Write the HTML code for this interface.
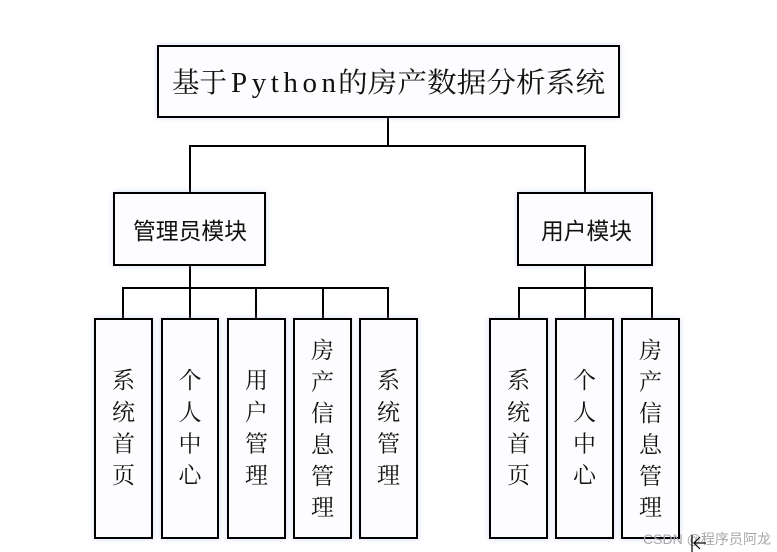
<!DOCTYPE html>
<html>
<head>
<meta charset="utf-8">
<style>
html,body{margin:0;padding:0;background:#fff;}
svg{display:block;}
.serif{font-family:"Liberation Serif","Noto Serif CJK SC",serif;}
.sans{font-family:"Liberation Sans","Noto Sans CJK SC",sans-serif;}
</style>
</head>
<body>
<svg width="777" height="552" viewBox="0 0 777 552" xmlns="http://www.w3.org/2000/svg">
<defs>
<filter id="glow" x="-20%" y="-20%" width="140%" height="140%">
<feDropShadow dx="0" dy="0" stdDeviation="3" flood-color="#9fb4e8" flood-opacity="0.45"/>
</filter>
</defs>
<rect width="777" height="552" fill="#fff"/>

<!-- connectors -->
<g stroke="#000" stroke-width="2" fill="none">
<line x1="388" y1="118" x2="388" y2="146"/>
<line x1="189" y1="146" x2="586" y2="146"/>
<line x1="190" y1="146" x2="190" y2="192"/>
<line x1="585" y1="146" x2="585" y2="192"/>

<line x1="190" y1="266" x2="190" y2="288"/>
<line x1="122" y1="288" x2="389" y2="288"/>
<line x1="123" y1="288" x2="123" y2="318"/>
<line x1="190" y1="288" x2="190" y2="318"/>
<line x1="256" y1="288" x2="256" y2="318"/>
<line x1="323" y1="288" x2="323" y2="318"/>
<line x1="388" y1="288" x2="388" y2="318"/>

<line x1="585" y1="266" x2="585" y2="288"/>
<line x1="518" y1="288" x2="653" y2="288"/>
<line x1="519" y1="288" x2="519" y2="318"/>
<line x1="585" y1="288" x2="585" y2="318"/>
<line x1="652" y1="288" x2="652" y2="318"/>
</g>

<!-- boxes -->
<g stroke="#000" stroke-width="2" fill="#fdfdff" filter="url(#glow)">
<rect x="158" y="46" width="461" height="71"/>
<rect x="114" y="193" width="151" height="72"/>
<rect x="518" y="193" width="134" height="72"/>

<rect x="95" y="319" width="57" height="219"/>
<rect x="162" y="319" width="56" height="219"/>
<rect x="228" y="319" width="57" height="219"/>
<rect x="294" y="319" width="57" height="219"/>
<rect x="360" y="319" width="57" height="219"/>

<rect x="490" y="319" width="57" height="219"/>
<rect x="556" y="319" width="57" height="219"/>
<rect x="622" y="319" width="57" height="219"/>
</g>

<!-- title -->
<g fill="#111" font-size="28">
<text x="172" y="92" class="serif" textLength="55" lengthAdjust="spacingAndGlyphs">基于</text>
<text x="231" y="92" font-family="'Liberation Serif',serif" font-size="29" textLength="105" lengthAdjust="spacing">Python</text>
<text x="338" y="92" class="serif" textLength="267" lengthAdjust="spacingAndGlyphs">的房产数据分析系统</text>
</g>

<!-- module labels -->
<g fill="#111" font-size="23" class="sans">
<text x="133" y="239" textLength="114" lengthAdjust="spacingAndGlyphs">管理员模块</text>
<text x="541" y="239" textLength="91" lengthAdjust="spacingAndGlyphs">用户模块</text>
</g>

<!-- vertical labels -->
<g fill="#111" font-size="23" class="serif" text-anchor="middle">
<text x="123.5" y="388">系</text><text x="123.5" y="420">统</text><text x="123.5" y="451.5">首</text><text x="123.5" y="483">页</text>
<text x="190" y="388">个</text><text x="190" y="420">人</text><text x="190" y="451.5">中</text><text x="190" y="483">心</text>
<text x="256.5" y="388">用</text><text x="256.5" y="420">户</text><text x="256.5" y="451.5">管</text><text x="256.5" y="483">理</text>
<text x="388.5" y="388">系</text><text x="388.5" y="420">统</text><text x="388.5" y="451.5">管</text><text x="388.5" y="483">理</text>
<text x="518.5" y="388">系</text><text x="518.5" y="420">统</text><text x="518.5" y="451.5">首</text><text x="518.5" y="483">页</text>
<text x="584.5" y="388">个</text><text x="584.5" y="420">人</text><text x="584.5" y="451.5">中</text><text x="584.5" y="483">心</text>
<text x="322.5" y="358">房</text><text x="322.5" y="389.5">产</text><text x="322.5" y="421">信</text><text x="322.5" y="452.5">息</text><text x="322.5" y="484">管</text><text x="322.5" y="515">理</text>
<text x="650.5" y="358">房</text><text x="650.5" y="389.5">产</text><text x="650.5" y="421">信</text><text x="650.5" y="452.5">息</text><text x="650.5" y="484">管</text><text x="650.5" y="515">理</text>
</g>

<!-- watermark -->
<text x="643" y="544" font-size="14" fill="#a8a8a8" class="sans" textLength="128" lengthAdjust="spacingAndGlyphs">CSDN @程序员阿龙</text>
<!-- cursor -->
<g stroke="#000" stroke-width="1.2" fill="none">
<line x1="692" y1="535" x2="692" y2="552"/>
<polyline points="700,537 694,543 700,549"/>
<line x1="694" y1="543" x2="706" y2="543"/>
</g>
</svg>
</body>
</html>
